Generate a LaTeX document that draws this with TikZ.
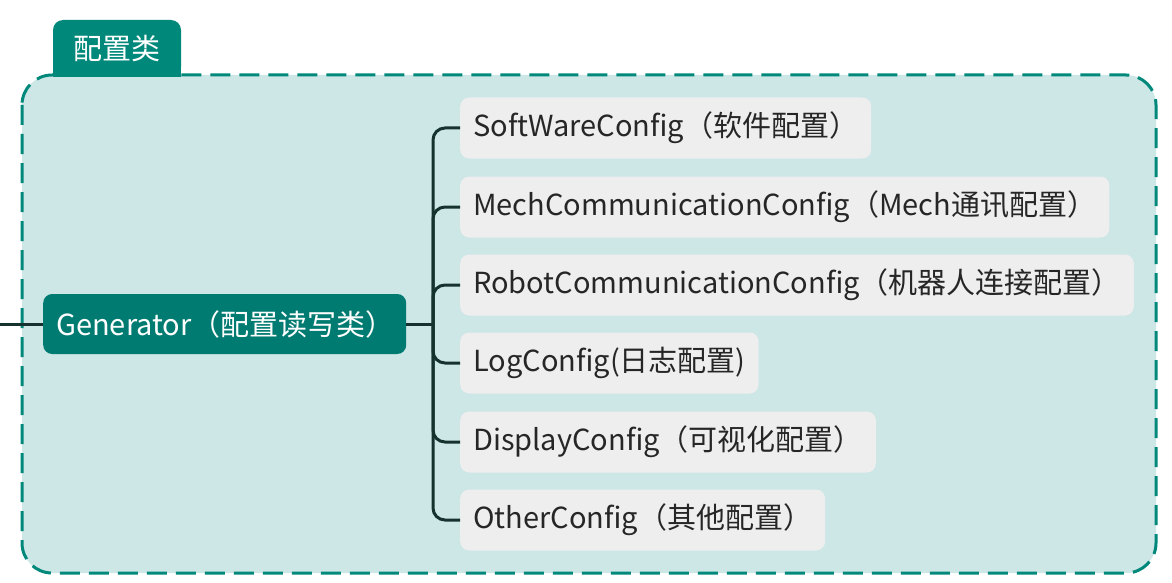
\documentclass[tikz,border=0pt]{standalone}
\usepackage{fontspec}
\setmainfont{Noto Sans CJK SC}
\usepackage{tikz}
\definecolor{tealline}{RGB}{0,137,123}
\definecolor{tealback}{RGB}{205,230,230}
\definecolor{tealdark}{RGB}{0,123,113}
\definecolor{leafgray}{RGB}{238,238,238}
\definecolor{linkdark}{RGB}{22,50,46}
\begin{document}
\begin{tikzpicture}[x=1pt,y=-1pt,
  label/.style={font=\fontsize{29}{34}\selectfont},
  leaf/.style={label, anchor=west, fill=leafgray, rounded corners=9pt,
    minimum height=61pt, inner xsep=13pt, text=black!85},
  link/.style={linkdark, line width=3pt, rounded corners=12pt}]
  \useasboundingbox (0,0) rectangle (1172,583);
  % frame and tab
  \draw [tealline, fill=tealback, line width=3pt, dash pattern=on 20pt off 9pt,
    rounded corners=30pt] (22,75) rectangle (1156,573);
  \fill [tealline] (53,50) rectangle (181,77);
  \node [label, fill=tealline, text=white, rounded corners=10pt,
    minimum width=128pt, minimum height=57pt] at (117,48.5) (tab) {配置类};
  % root
  \node [label, anchor=west, fill=tealdark, text=white, rounded corners=9pt,
    minimum height=60pt, text width=337pt, inner xsep=13pt, align=left]
    at (43,324) (gen) {Generator（配置读写类）};
  % leaves
  \node [leaf] at (460,128) (n1) {SoftWareConfig（软件配置）};
  \node [leaf] at (460,207) (n2) {MechCommunicationConfig（Mech通讯配置）};
  \node [leaf] at (460,285) (n3) {RobotCommunicationConfig（机器人连接配置）};
  \node [leaf] at (460,363) (n4) {LogConfig(日志配置)};
  \node [leaf] at (460,442) (n5) {DisplayConfig（可视化配置）};
  \node [leaf] at (460,520) (n6) {OtherConfig（其他配置）};
  % connectors
  \coordinate (in) at (0,324);
  \coordinate (hub) at (433,324);
  \draw [link] (in) -- (gen.west);
  \draw [link] (gen.east) -- (hub);
  \draw [link] (hub) |- (n1.west);
  \draw [link] (hub) |- (n2.west);
  \draw [link] (hub) |- (n3.west);
  \draw [link] (hub) |- (n4.west);
  \draw [link] (hub) |- (n5.west);
  \draw [link] (hub) |- (n6.west);
\end{tikzpicture}
\end{document}
